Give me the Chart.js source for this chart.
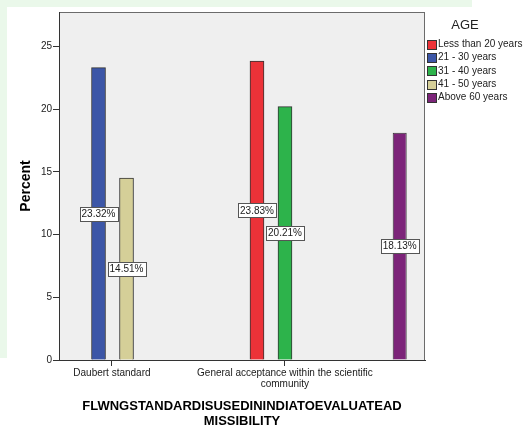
<!DOCTYPE html>
<html>
<head>
<meta charset="utf-8">
<title>Percent by standard and age</title>
<script src="https://cdn.jsdelivr.net/npm/chart.js@4.4.1/dist/chart.umd.min.js"></script>
<style>
	html, body { margin: 0; padding: 0; background: #fff; }
	#wrap { position: relative; width: 526px; height: 426px; }
</style>
</head>
<body>
<div id="wrap"><canvas id="chart" width="526" height="426"></canvas></div>
<script>
// Chart data
var categories = ['Daubert standard', ['General acceptance within the scientific', 'community'], ''];
var seriesNames = ['Less than 20 years', '21 - 30 years', '31 - 40 years', '41 - 50 years', 'Above 60 years'];
var lessThan20 = [null, 23.83, null];
var age21to30 = [23.32, null, null];
var age31to40 = [null, 20.21, null];
var age41to50 = [14.51, null, null];
var above60 = [null, null, 18.13];
var yTicks = [0, 5, 10, 15, 20, 25];

var seriesColors = ['#ec3238', '#3c56a7', '#2db34b', '#d5cf98', '#7c2479'];
var FONT = "'Liberation Sans', Arial, sans-serif";

(function() {
	'use strict';

	// Visible category window of each x axis (start index, span in categories)
	var labelWindow = { start: -0.306, span: 2.116 };
	var barWindow = { start: -0.432, span: 2.122 };
	var soloWindow = { start: 0, span: 2.1485 };

	function categoryWindow(win) {
		return function(scale) {
			scale._startValue = win.start;
			scale._valueRange = win.span;
		};
	}

	/**
	 * Page backdrop: faint green strips and the grey plot panel with frame.
	 */
	var backdrop = {
		id: 'backdrop',
		beforeDraw: function(chart) {
			var ctx = chart.ctx;
			var a = chart.chartArea;
			ctx.save();
			ctx.fillStyle = '#eaf8ea';
			ctx.fillRect(0, 0, 472, 7);
			ctx.fillRect(0, 0, 7, 358);
			ctx.fillStyle = '#efefef';
			ctx.fillRect(a.left, a.top, a.right - a.left, a.bottom - a.top);
			ctx.strokeStyle = '#6b6b6b';
			ctx.lineWidth = 1;
			ctx.strokeRect(a.left + 0.5, a.top + 0.5, a.right - a.left - 1, a.bottom - a.top);
			ctx.restore();
		}
	};

	/**
	 * Boxed value labels at half bar height.
	 */
	var valueLabels = {
		id: 'valueLabels',
		afterDatasetsDraw: function(chart) {
			var ctx = chart.ctx;
			ctx.save();
			ctx.font = '10px ' + FONT;
			ctx.textAlign = 'center';
			ctx.textBaseline = 'middle';
			chart.data.datasets.forEach(function(ds, i) {
				var meta = chart.getDatasetMeta(i);
				meta.data.forEach(function(bar, j) {
					var v = ds.data[j];
					if (v === null || v === undefined) {
						return;
					}
					var text = v.toFixed(2) + '%';
					var w = Math.round(ctx.measureText(text).width) + 4;
					var h = 14;
					var cx = bar.x;
					var cy = (bar.y + bar.base) / 2;
					var x0 = Math.round(cx - w / 2) + 0.5;
					var y0 = Math.round(cy - h / 2) + 0.5;
					ctx.fillStyle = '#fff';
					ctx.fillRect(x0, y0, w, h);
					ctx.strokeStyle = '#555';
					ctx.lineWidth = 1;
					ctx.strokeRect(x0, y0, w, h);
					ctx.fillStyle = '#1a1a1a';
					ctx.fillText(text, cx, cy + 0.5);
				});
			});
			ctx.restore();
		}
	};

	/**
	 * Legend on the right, SPSS style.
	 */
	var sideLegend = {
		id: 'sideLegend',
		afterDraw: function(chart) {
			var ctx = chart.ctx;
			ctx.save();
			ctx.fillStyle = '#222';
			ctx.textBaseline = 'middle';
			ctx.textAlign = 'center';
			ctx.font = '13px ' + FONT;
			ctx.fillText('AGE', 465, 25);
			ctx.textAlign = 'left';
			ctx.font = '10px ' + FONT;
			chart.data.datasets.forEach(function(ds, i) {
				var cy = 44.3 + i * 13.25;
				ctx.fillStyle = ds.backgroundColor;
				ctx.fillRect(427.5, Math.round(cy - 4.5) + 0.5, 9, 9);
				ctx.strokeStyle = '#333';
				ctx.lineWidth = 1;
				ctx.strokeRect(427.5, Math.round(cy - 4.5) + 0.5, 9, 9);
				ctx.fillStyle = '#222';
				ctx.fillText(ds.label, 438, cy);
			});
			ctx.restore();
		}
	};

	var seriesData = [lessThan20, age21to30, age31to40, age41to50, above60];

	var datasets = seriesNames.map(function(name, i) {
		var ds = {
			label: name,
			data: seriesData[i],
			xAxisID: 'xBars',
			backgroundColor: seriesColors[i],
			borderColor: '#333',
			borderWidth: 1,
			barThickness: 14
		};
		// last group sits alone in its own cluster
		if (i === 4) {
			ds.xAxisID = 'xSolo';
			ds.grouped = false;
			ds.barThickness = undefined;
			ds.barPercentage = 1;
			ds.maxBarThickness = 14;
		}
		return ds;
	});

	var ctx = document.getElementById('chart').getContext('2d');

	new Chart(ctx, {
		type: 'bar',
		data: {
			labels: categories,
			datasets: datasets
		},
		options: {
			responsive: false,
			animation: false,
			layout: {
				padding: { top: 12, right: 101, bottom: 0, left: 0 }
			},
			plugins: {
				legend: { display: false },
				tooltip: { enabled: false }
			},
			scales: {
				x: {
					type: 'category',
					afterBuildTicks: categoryWindow(labelWindow),
					grid: {
						offset: false,
						drawOnChartArea: false,
						tickLength: 6,
						tickColor: function(c) {
							return c.index === 2 ? 'rgba(0,0,0,0)' : '#333';
						}
					},
					border: { color: '#333' },
					ticks: {
						color: '#1a1a1a',
						font: { family: FONT, size: 10, lineHeight: 1.05 },
						maxRotation: 0,
						autoSkip: false,
						padding: 2
					},
					title: {
						display: true,
						text: ['FLWNGSTANDARDISUSEDININDIATOEVALUATEAD', 'MISSIBILITY'],
						color: '#000',
						font: { family: FONT, size: 13, weight: 'bold', lineHeight: 1.15 },
						padding: { top: 0, bottom: -3 }
					},
					afterFit: function(scale) {
						scale.height = 66;
					}
				},
				xBars: {
					type: 'category',
					display: false,
					afterBuildTicks: categoryWindow(barWindow)
				},
				xSolo: {
					type: 'category',
					display: false,
					afterBuildTicks: categoryWindow(soloWindow)
				},
				y: {
					min: 0,
					max: 27.75,
					afterBuildTicks: function(scale) {
						scale.ticks = yTicks.map(function(v) { return { value: v }; });
					},
					grid: {
						drawOnChartArea: false,
						tickLength: 6,
						tickColor: '#333'
					},
					border: { color: '#333' },
					ticks: {
						color: '#1a1a1a',
						font: { family: FONT, size: 10 },
						padding: 1
					},
					title: {
						display: true,
						text: 'Percent',
						color: '#000',
						font: { family: FONT, size: 14, weight: 'bold', lineHeight: 1.2 },
						padding: { top: 17.6, bottom: 0 }
					},
					afterFit: function(scale) {
						scale.width = 59;
					}
				}
			}
		},
		plugins: [backdrop, valueLabels, sideLegend]
	});
})();
</script>
</body>
</html>
